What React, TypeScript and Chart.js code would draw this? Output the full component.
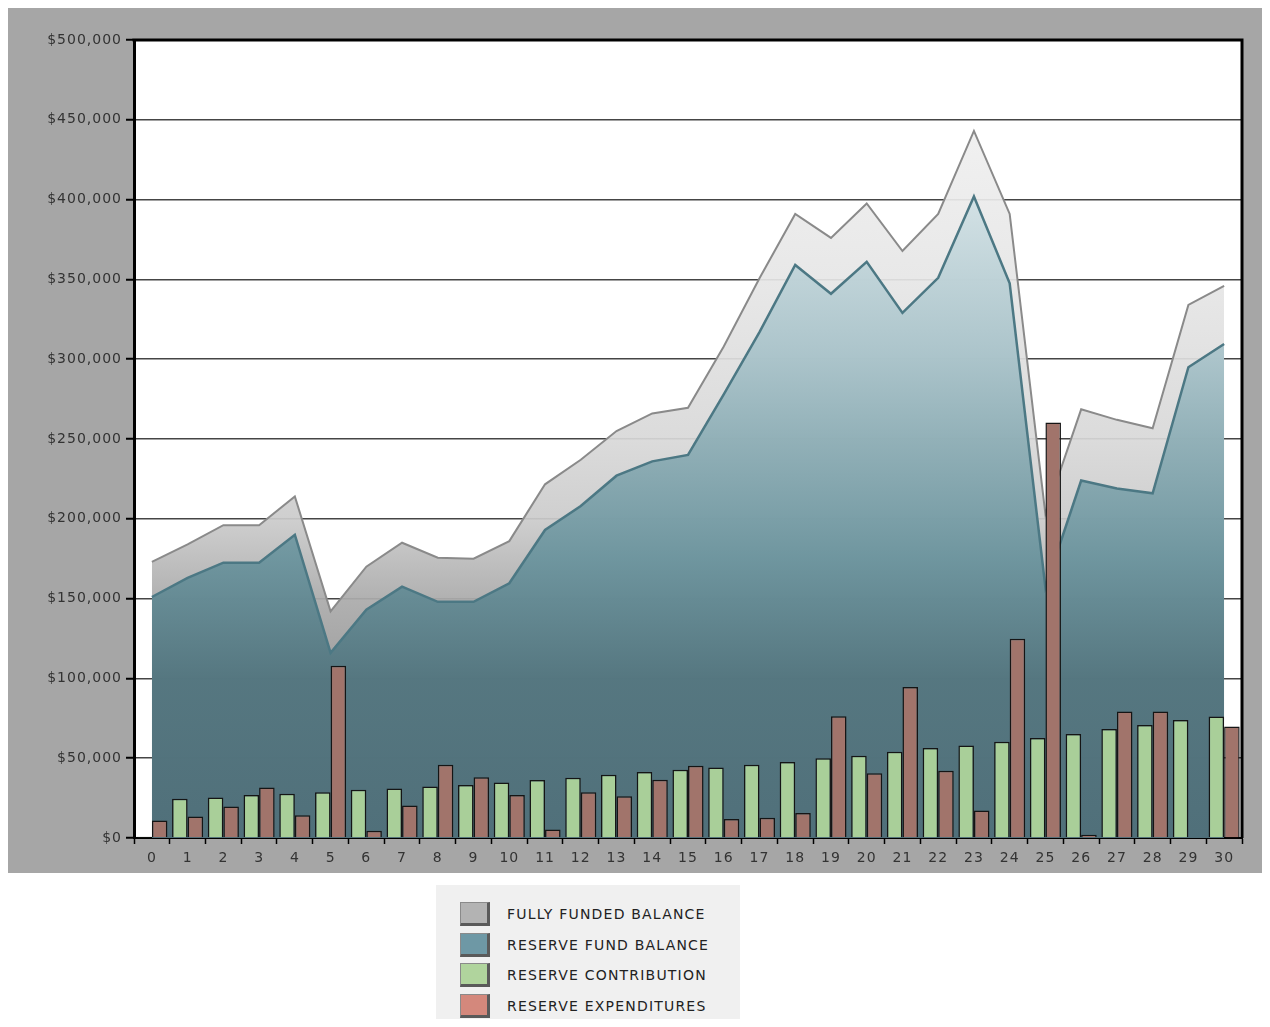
import React, { useEffect, useRef } from "react";
import { Chart, registerables } from "chart.js";

Chart.register(...registerables);

const years = ["0","1","2","3","4","5","6","7","8","9","10","11","12","13","14","15","16","17","18","19","20","21","22","23","24","25","26","27","28","29","30"];

const fullyFundedBalance = [173000,184000,196000,196000,214000,142000,170000,185000,175600,175000,186000,221600,237000,255000,266000,269600,308000,350700,391000,376000,397600,367800,391000,443000,391000,203000,268600,262000,256700,334000,346000];

const reserveFundBalance = [151000,163000,172500,172500,190000,116000,143000,157500,148000,148000,159600,193000,208000,227000,236000,240000,278000,317000,359000,341000,361000,329000,351000,402000,347500,157000,224000,219000,216000,295000,309500];

const reserveContribution = [800,24600,25400,27000,27800,28600,30300,31000,32300,33200,34800,36300,37800,39700,41300,42800,44200,45900,47600,49900,51600,54000,56400,58000,60300,62600,65100,68300,70800,73900,76200];

const reserveExpenditures = [11000,13500,19800,31700,14200,108000,4600,20400,45900,38000,26900,5400,28600,26100,36500,45300,11900,12700,15700,76300,40500,94600,42200,17300,124900,260400,2000,79300,79300,0,69900];

const yTicks = { min: 0, max: 500000, step: 50000 };

const legendItems = [
  { label: "FULLY FUNDED BALANCE", color: "#b3b3b3" },
  { label: "RESERVE FUND BALANCE", color: "#6e98a5" },
  { label: "RESERVE CONTRIBUTION", color: "#b0d49d" },
  { label: "RESERVE EXPENDITURES", color: "#d4887c" },
];

const FONT = "'DejaVu Sans', sans-serif";

function vGrad(chart: any, stops: [number, string][]) {
  const area = chart.chartArea;
  if (!area) return "#999";
  const g = chart.ctx.createLinearGradient(0, area.top, 0, area.bottom);
  stops.forEach(([f, c]) => g.addColorStop(f, c));
  return g;
}

const framePlugin = {
  id: "frame",
  beforeLayout(chart: any) {
    (chart.ctx as any).letterSpacing = "1px";
  },
  beforeDraw(chart: any) {
    const ctx = chart.ctx;
    (ctx as any).letterSpacing = "1px";
    const a = chart.chartArea;
    ctx.save();
    ctx.fillStyle = "#ffffff";
    ctx.fillRect(a.left, a.top, a.right - a.left, a.bottom - a.top);
    ctx.restore();
  },
  afterDraw(chart: any) {
    const ctx = chart.ctx;
    const a = chart.chartArea;
    ctx.save();
    ctx.strokeStyle = "#000";
    ctx.lineWidth = 3;
    ctx.beginPath();
    ctx.moveTo(a.left - 1.5, a.top);
    ctx.lineTo(a.right, a.top);
    ctx.lineTo(a.right, a.bottom);
    ctx.stroke();
    ctx.restore();
  },
};

export default function App() {
  const ref = useRef<HTMLCanvasElement | null>(null);

  useEffect(() => {
    document.body.style.overflow = "hidden";
    if (!ref.current) return;
    const chart = new Chart(ref.current, {
      type: "bar",
      data: {
        labels: years,
        datasets: [
          {
            type: "bar",
            label: "Reserve Contribution",
            data: reserveContribution,
            backgroundColor: "#a9cf99",
            borderColor: "#151515",
            borderWidth: 1.5,
            order: 0,
          },
          {
            type: "bar",
            label: "Reserve Expenditures",
            data: reserveExpenditures,
            backgroundColor: "#a1746b",
            borderColor: "#151515",
            borderWidth: 1.5,
            order: 0,
          },
          {
            type: "line",
            label: "Reserve Fund Balance",
            data: reserveFundBalance,
            borderColor: "#4c7884",
            borderWidth: 2.5,
            pointRadius: 0,
            tension: 0,
            fill: "origin",
            backgroundColor: (c: any) =>
              vGrad(c.chart, [
                [0.2, "rgba(208,224,228,0.92)"],
                [0.4, "rgba(166,193,200,0.92)"],
                [0.5, "rgba(140,173,181,0.92)"],
                [0.65, "rgba(104,146,156,0.92)"],
                [0.8, "rgba(80,116,126,0.93)"],
                [1, "rgba(74,108,119,0.93)"],
              ]),
            order: 1,
          },
          {
            type: "line",
            label: "Fully Funded Balance",
            data: fullyFundedBalance,
            borderColor: "#8a8a8a",
            borderWidth: 2,
            pointRadius: 0,
            tension: 0,
            fill: "origin",
            backgroundColor: (c: any) =>
              vGrad(c.chart, [
                [0.1, "rgba(240,240,240,0.92)"],
                [0.3, "rgba(230,230,230,0.92)"],
                [0.5, "rgba(216,216,216,0.92)"],
                [0.6, "rgba(203,203,203,0.92)"],
                [0.7, "rgba(171,171,171,0.93)"],
                [0.8, "rgba(152,152,152,0.93)"],
              ]),
            order: 2,
          },
        ],
      },
      options: {
        responsive: false,
        devicePixelRatio: 1,
        animation: false,
        layout: { padding: { top: 34, right: 28, bottom: 0, left: 0 } },
        plugins: {
          legend: { display: false },
          tooltip: { enabled: false },
        },
        datasets: {
          bar: { categoryPercentage: 0.87, barPercentage: 1.0 },
        },
        scales: {
          x: {
            offset: true,
            grid: {
              display: true,
              offset: true,
              drawOnChartArea: false,
              drawTicks: true,
              tickLength: 6,
              tickColor: "#000",
              tickWidth: 1.5,
            },
            border: { display: true, color: "#000", width: 2 },
            ticks: {
              color: "#333",
              font: { family: FONT, size: 14 },
              padding: 6,
              maxRotation: 0,
              autoSkip: false,
            },
            afterFit(scale: any) {
              scale.height = 35;
            },
          },
          y: {
            min: yTicks.min,
            max: yTicks.max,
            grid: {
              color: "#454545",
              lineWidth: 1.5,
              drawTicks: true,
              tickLength: 8,
              tickColor: "#000",
              tickWidth: 2,
            },
            border: { display: true, color: "#000", width: 3 },
            ticks: {
              stepSize: yTicks.step,
              color: "#333",
              font: { family: FONT, size: 14 },
              padding: 4,
              callback: (v: any) => "$" + Number(v).toLocaleString("en-US"),
            },
            afterFit(scale: any) {
              scale.width = 126;
            },
          },
        },
      },
      plugins: [framePlugin],
    } as any);
    return () => chart.destroy();
  }, []);

  return (
    <div style={{ position: "relative", marginTop: -2, width: 1262, height: 1013, fontFamily: FONT }}>
      <div style={{ position: "absolute", left: 0, top: 0, width: 1262, height: 867, background: "#a6a6a6" }}>
        <canvas ref={ref} width={1262} height={867} style={{ display: "block" }} />
      </div>
      <div
        style={{
          position: "absolute",
          left: 428,
          top: 879,
          width: 304,
          height: 142,
          background: "#f0f0f0",
        }}
      >
        {legendItems.map((it, i) => (
          <div
            key={it.label}
            style={{ position: "absolute", left: 24, top: 17 + i * 30.6, height: 24, display: "flex", alignItems: "center" }}
          >
            <div
              style={{
                width: 26,
                height: 20,
                background: it.color,
                borderRight: "3px solid #5a5a5a",
                borderBottom: "3px solid #5a5a5a",
                borderTop: "1px solid #8a8a8a",
                borderLeft: "1px solid #8a8a8a",
                boxSizing: "content-box",
              }}
            />
            <span
              style={{
                marginLeft: 17,
                fontSize: 14,
                letterSpacing: "1.2px",
                color: "#222",
                whiteSpace: "nowrap",
                lineHeight: "24px",
              }}
            >
              {it.label}
            </span>
          </div>
        ))}
      </div>
    </div>
  );
}
